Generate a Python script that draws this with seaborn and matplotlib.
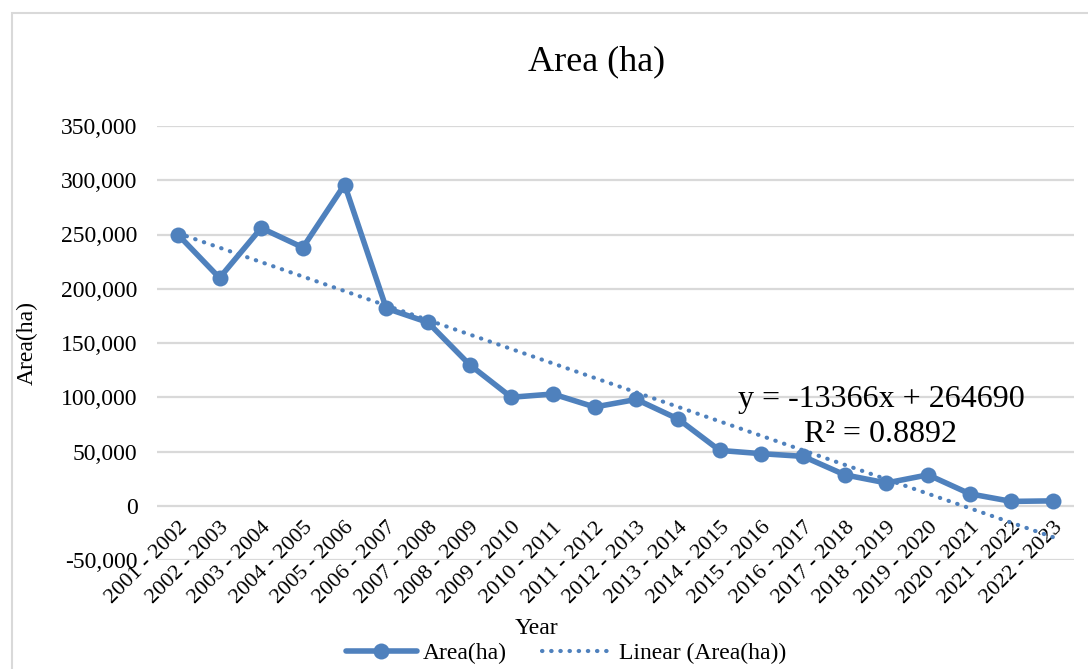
import numpy as np
import pandas as pd
import matplotlib
matplotlib.use("Agg")
import matplotlib.pyplot as plt
import matplotlib.patches as mpatches
from matplotlib.ticker import FuncFormatter
import seaborn as sns

# --- data ---
years = [
    "2001 - 2002", "2002 - 2003", "2003 - 2004", "2004 - 2005", "2005 - 2006",
    "2006 - 2007", "2007 - 2008", "2008 - 2009", "2009 - 2010", "2010 - 2011",
    "2011 - 2012", "2012 - 2013", "2013 - 2014", "2014 - 2015", "2015 - 2016",
    "2016 - 2017", "2017 - 2018", "2018 - 2019", "2019 - 2020", "2020 - 2021",
    "2021 - 2022", "2022 - 2023",
]
area = [
    250000, 210000, 256000, 238000, 296000, 182000, 169000, 130000, 100000, 103000,
    91000, 98000, 80000, 51000, 48000, 45500, 28500, 21000, 28500, 11000,
    4000, 4500,
]
trend_text = "y = -13366x + 264690\nR\u00b2 = 0.8892"

df = pd.DataFrame({"idx": np.arange(len(years)), "year": years, "area": area})

sns.set_theme(style="white")
plt.rcParams["font.family"] = ["Liberation Serif", "DejaVu Serif"]
plt.rcParams.update({"text.color": "black", "axes.labelcolor": "black",
                     "xtick.color": "black", "ytick.color": "black"})

blue = "#4f81bd"
grid_c = "#d9d9d9"

fig = plt.figure(figsize=(10.88, 6.69), dpi=100)
ax = fig.add_axes([157 / 1088, 1 - 560 / 669, (1074 - 157) / 1088, (560 - 126) / 669])

sns.lineplot(data=df, x="idx", y="area", ax=ax, color=blue, lw=4,
             marker="o", markersize=11.5, markeredgewidth=0, label="Area(ha)")
sns.regplot(data=df, x="idx", y="area", ax=ax, scatter=False, ci=None,
            color=blue, label="Linear (Area(ha))",
            line_kws={"lw": 3.0, "ls": (0, (0.1, 2.1)), "dash_capstyle": "round"})

ax.set_xlim(-0.5, len(years) - 0.5)
ax.set_ylim(-50000, 350000)
ax.set_yticks(np.arange(-50000, 350001, 50000))
ax.yaxis.set_major_formatter(FuncFormatter(lambda v, p: f"{v:,.0f}"))
ax.grid(axis="y", color=grid_c, lw=1.6)
ax.grid(axis="x", visible=False)
ax.set_axisbelow(True)
for s in ax.spines.values():
    s.set_visible(False)
ax.spines["bottom"].set_position(("data", 0))

ax.set_xticks(df["idx"], labels=years, rotation=45, ha="right",
              rotation_mode="anchor", fontsize=16)
ax.tick_params(axis="x", length=0, pad=9)
ax.tick_params(axis="y", length=0, pad=14, labelsize=17)

ax.set_xlabel("Year", fontsize=17)
ax.xaxis.set_label_coords((536 - 157) / 917, (560 - 618) / 434)
ax.set_ylabel("Area(ha)", fontsize=17)
ax.yaxis.set_label_coords((38 - 157) / 917, 0.5)

ax.text((881 - 157) / 917, (560 - 417) / 434, trend_text, transform=ax.transAxes,
        ha="center", va="center", fontsize=23, linespacing=1.3)

fig.text(597 / 1088, 1 - 62 / 669, "Area (ha)", ha="center", va="center", fontsize=26)

handles, labels = ax.get_legend_handles_labels()
if ax.legend_:
    ax.legend_.remove()
fig.legend(handles, labels, loc="center", bbox_to_anchor=(566 / 1088, 1 - 653 / 669),
           ncol=2, frameon=False, fontsize=17, handlelength=3.0, handletextpad=0.25,
           columnspacing=1.5)

# chart border as in the source screenshot
fig.patches.append(mpatches.Rectangle((12 / 1088, -0.1), 1.2, 1.1 - 13 / 669,
                                      transform=fig.transFigure, fill=False,
                                      edgecolor=grid_c, lw=1.5))

fig.savefig("out.png", dpi=100)
